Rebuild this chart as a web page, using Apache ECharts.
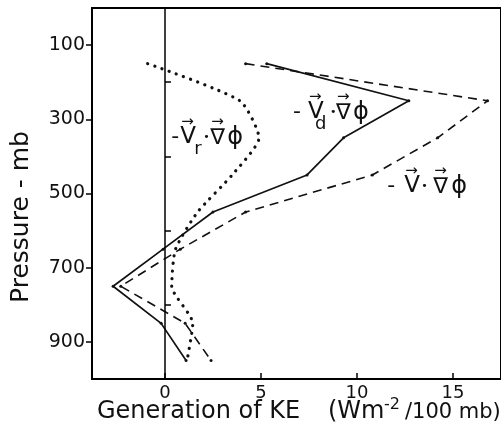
<!DOCTYPE html>
<html>
<head>
<meta charset="utf-8">
<script src="https://cdn.jsdelivr.net/npm/echarts@6/dist/echarts.min.js"></script>
<style>
html,body{margin:0;padding:0;background:#fff;}
#c{width:501px;height:434px;}
</style>
</head>
<body>
<div id="c"></div>
<script>
// Pressure levels (mb)
const pressure = [150, 250, 350, 450, 550, 650, 750, 850, 950];
// -V·∇φ (dashed)
const genTotal = [4.2, 16.8, 14.2, 10.8, 4.2, 0.8, -2.3, 1.05, 2.4];
// -V_d·∇φ (solid)
const genDiv = [5.3, 12.7, 9.3, 7.4, 2.5, -0.1, -2.7, -0.2, 1.1];
// -V_r·∇φ (dotted)
const genRot = [-0.9, 3.9, 4.9, 3.5, 1.7, 0.55, 0.35, 1.45, 1.15];

const xTicks = [0, 5, 10, 15];
const yLabelTicks = [100, 300, 500, 700, 900];
const yMinorTicks = [200, 400, 600, 800];

// label anchors in data coordinates [x, pressure]
const labelAnchors = {
  rot: [0.33, 348],
  div: [6.67, 280],
  tot: [11.57, 480]
};

const INK = '#111';
const FONT = '"DejaVu Sans", "Liberation Sans", sans-serif';

function pairs(vals) { return pressure.map((p, i) => [vals[i], p]); }

const chart = echarts.init(document.getElementById('c'), null, {renderer: 'canvas'});

const option = {
  animation: false,
  backgroundColor: '#fff',
  grid: {left: 92, top: 8, width: 413, height: 371, show: true, borderColor: '#000', borderWidth: 2, backgroundColor: 'transparent'},
  xAxis: {
    type: 'value', min: -3.8, max: 17.5,
    axisLine: {show: true, onZero: false, lineStyle: {color: '#000', width: 2}},
    axisTick: {show: true, inside: true, length: 6, customValues: xTicks, lineStyle: {color: '#000', width: 1.5}},
    axisLabel: {customValues: xTicks, color: INK, fontSize: 18, fontFamily: FONT, margin: 5},
    splitLine: {show: false}
  },
  yAxis: [{
    type: 'value', inverse: true, min: 0, max: 1000,
    axisLine: {show: true, onZero: false, lineStyle: {color: '#000', width: 2}},
    axisTick: {show: true, inside: false, length: 6, customValues: yLabelTicks, lineStyle: {color: '#000', width: 1.5}},
    axisLabel: {customValues: yLabelTicks, color: INK, fontSize: 19, fontFamily: FONT, margin: 7},
    splitLine: {show: false}
  }, {
    type: 'value', inverse: true, min: 0, max: 1000, position: 'left',
    axisLine: {show: false},
    axisTick: {show: true, inside: true, length: 6, customValues: yMinorTicks, lineStyle: {color: '#000', width: 1.5}},
    axisLabel: {show: false},
    splitLine: {show: false}
  }],
  series: [{
    name: 'total', type: 'line', data: pairs(genTotal),
    symbol: 'circle', symbolSize: 3, showSymbol: true,
    itemStyle: {color: INK},
    lineStyle: {color: INK, width: 1.6, type: [9, 6]}
  }, {
    name: 'div', type: 'line', data: pairs(genDiv),
    symbol: 'circle', symbolSize: 3, showSymbol: true,
    itemStyle: {color: INK},
    lineStyle: {color: INK, width: 1.7, type: 'solid'},
    markLine: {
      silent: true, symbol: 'none', label: {show: false},
      lineStyle: {color: '#000', width: 1.5, type: 'solid'},
      data: [{xAxis: 0}]
    }
  }, {
    name: 'rot', type: 'line', data: pairs(genRot),
    showSymbol: false, smooth: 0.2,
    lineStyle: {color: INK, width: 3.2, type: [0.1, 7.5], cap: 'round'}
  }]
};
chart.setOption(option);

function txt(x, y, s, size) {
  return {type: 'text', x: x, y: y, style: {text: s, fontSize: size, fontFamily: FONT, fill: INK,
    textAlign: 'left', textVerticalAlign: 'middle', align: 'left', verticalAlign: 'middle'}};
}
function vecLabel(anchor, sub, offs) {
  const p = chart.convertToPixel({gridIndex: 0}, anchor);
  const ch = [];
  ch.push(txt(0, 0, '-', 22));
  ch.push(txt(offs.v, 0, 'V', 23));
  ch.push(txt(offs.v + 1, -15, '\u2192', 15));
  if (sub) ch.push(txt(offs.v + offs.sub, 12, sub, 18));
  ch.push(txt(offs.dot, 0, '\u2022', 11));
  ch.push(txt(offs.nab, 1, '\u2207', 22));
  ch.push(txt(offs.nab + 1, -15, '\u2192', 15));
  ch.push(txt(offs.phi, 1, '\u03D5', 24));
  return {type: 'group', x: p[0], y: p[1], children: ch};
}

chart.setOption({
  graphic: [
    vecLabel(labelAnchors.rot, 'r', {v: 9, sub: 14, dot: 32, nab: 39, phi: 56}),
    vecLabel(labelAnchors.div, 'd', {v: 15, sub: 7, dot: 37, nab: 43, phi: 60}),
    vecLabel(labelAnchors.tot, null, {v: 17, sub: 0, dot: 34, nab: 46, phi: 64}),
    {type: 'text', x: 21, y: 217, rotation: Math.PI / 2,
      style: {text: 'Pressure - mb', fontSize: 25, fontFamily: FONT, fill: INK,
        textAlign: 'center', textVerticalAlign: 'middle', align: 'center', verticalAlign: 'middle'}},
    txt(97, 412, 'Generation of KE', 24),
    txt(328, 412, '(Wm', 24),
    txt(384, 405, '-2', 16),
    txt(405, 413, '/100 mb)', 21)
  ]
});
</script>
</body>
</html>
